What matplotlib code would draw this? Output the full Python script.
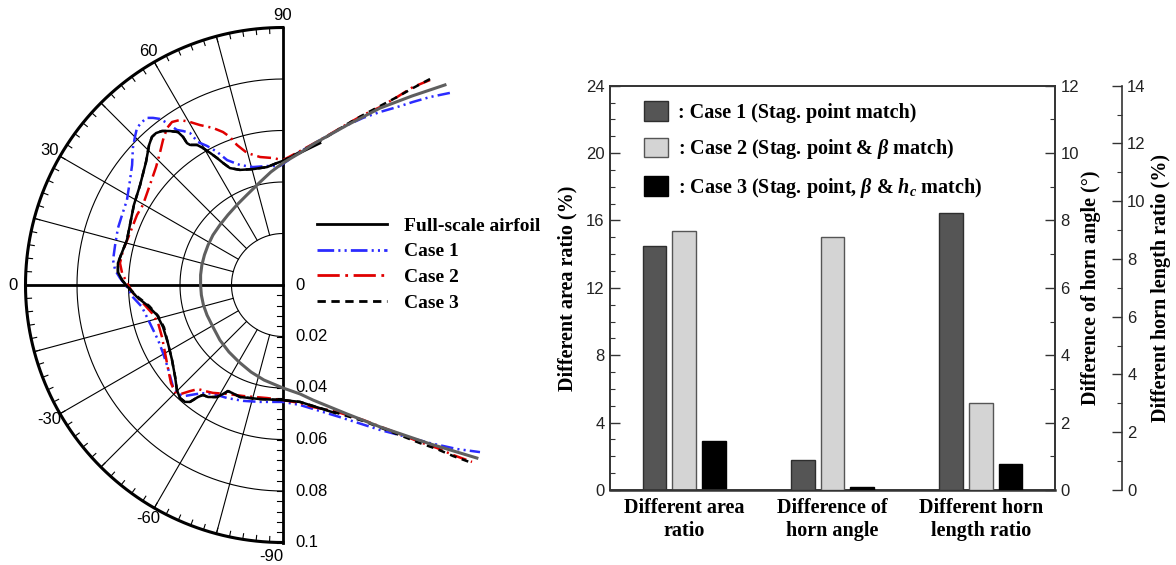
import numpy as np
import matplotlib
matplotlib.use('Agg')
import matplotlib.pyplot as plt
from matplotlib.lines import Line2D

plt.rcParams['font.family'] = 'Liberation Sans'
plt.rcParams['mathtext.fontset'] = 'custom'
plt.rcParams['mathtext.rm'] = 'Liberation Serif:bold'
plt.rcParams['mathtext.it'] = 'Liberation Serif:italic:bold'
plt.rcParams['mathtext.bf'] = 'Liberation Serif:bold'
plt.rcParams['mathtext.default'] = 'it'
plt.rcParams['lines.scale_dashes'] = False

SERIF = dict(family='Liberation Serif', weight='bold')

# ice shapes, x/y in the units of the polar grid (grid centre at 0, 0)
airfoil_x = [0.0629, 0.0501, 0.0377, 0.0249, 0.0124, 0.0066, 0.0, -0.0047, -0.0093, -0.0140,
             -0.0179, -0.0214, -0.0245, -0.0272, -0.0291, -0.0305, -0.0315, -0.0320, -0.0320, -0.0317,
             -0.0309, -0.0295, -0.0272, -0.0245, -0.0210, -0.0171, -0.0124, -0.0074, 0.0, 0.0066,
             0.0117, 0.0249, 0.0377, 0.0571, 0.0753]
airfoil_y = [0.0777, 0.0734, 0.0687, 0.0621, 0.0551, 0.0513, 0.0474, 0.0439, 0.0396, 0.0350,
             0.0311, 0.0272, 0.0233, 0.0194, 0.0155, 0.0117, 0.0078, 0.0039, 0.0, -0.0039,
             -0.0078, -0.0117, -0.0163, -0.0214, -0.0260, -0.0299, -0.0338, -0.0369, -0.0400, -0.0423,
             -0.0447, -0.0501, -0.0551, -0.0617, -0.0672]

full_x = [0.0144, 0.0066, 0.0, -0.0023, -0.0062, -0.0117, -0.0167, -0.0206, -0.0233,
          -0.0256, -0.0283, -0.0311, -0.0334, -0.0361, -0.0373, -0.0388, -0.0408, -0.0439, -0.0470,
          -0.0493, -0.0509, -0.0520, -0.0532, -0.0555, -0.0579, -0.0606, -0.0629, -0.0641, -0.0641,
          -0.0625, -0.0606, -0.0567, -0.0528, -0.0489, -0.0466, -0.0447, -0.0431, -0.0419, -0.0412,
          -0.0400, -0.0381, -0.0361, -0.0330, -0.0311, -0.0291, -0.0256, -0.0225, -0.0214, -0.0198,
          -0.0167, -0.0089, 0.0, 0.0066, 0.0117, 0.0202]
full_y = [0.0551, 0.0513, 0.0482, 0.0474, 0.0458, 0.0450, 0.0447, 0.0454, 0.0474,
          0.0493, 0.0513, 0.0532, 0.0544, 0.0544, 0.0551, 0.0575, 0.0594, 0.0598, 0.0598,
          0.0590, 0.0575, 0.0544, 0.0478, 0.0388, 0.0311, 0.0175, 0.0117, 0.0085, 0.0050,
          0.0019, -0.0004, -0.0047, -0.0078, -0.0117, -0.0163, -0.0225, -0.0291, -0.0357, -0.0408,
          -0.0439, -0.0454, -0.0454, -0.0435, -0.0427, -0.0435, -0.0435, -0.0419, -0.0412, -0.0419,
          -0.0435, -0.0443, -0.0447, -0.0454, -0.0470, -0.0497]

case1_x = [0.0648, 0.0571, 0.0505, 0.0443, 0.0377, 0.0311, 0.0249, 0.0144, 0.0066, -0.0012,
           -0.0062, -0.0117, -0.0167, -0.0217, -0.0256, -0.0295, -0.0330, -0.0361, -0.0388, -0.0412,
           -0.0450, -0.0478, -0.0505, -0.0528, -0.0548, -0.0567, -0.0575, -0.0583, -0.0586, -0.0594,
           -0.0606, -0.0625, -0.0641, -0.0652, -0.0660, -0.0652, -0.0633, -0.0606, -0.0583, -0.0548,
           -0.0517, -0.0485, -0.0466, -0.0447, -0.0427, -0.0408, -0.0381, -0.0334, -0.0295, -0.0256,
           -0.0217, -0.0155, -0.0089, 0.0, 0.0066, 0.0221, 0.0377, 0.0571, 0.0676, 0.0765]
case1_y = [0.0746, 0.0730, 0.0711, 0.0691, 0.0672, 0.0649, 0.0621, 0.0563, 0.0517, 0.0462,
           0.0462, 0.0458, 0.0466, 0.0485, 0.0517, 0.0540, 0.0555, 0.0590, 0.0598, 0.0602,
           0.0629, 0.0645, 0.0649, 0.0649, 0.0633, 0.0610, 0.0575, 0.0532, 0.0466, 0.0408,
           0.0330, 0.0272, 0.0221, 0.0155, 0.0097, 0.0058, 0.0027, -0.0008, -0.0047, -0.0085,
           -0.0148, -0.0214, -0.0264, -0.0322, -0.0396, -0.0423, -0.0431, -0.0423, -0.0419, -0.0427,
           -0.0439, -0.0450, -0.0454, -0.0454, -0.0466, -0.0513, -0.0563, -0.0614, -0.0637, -0.0649]

case2_x = [0.0571, 0.0505, 0.0443, 0.0377, 0.0311, 0.0249, 0.0144, 0.0066, 0.0, -0.0039,
           -0.0089, -0.0140, -0.0179, -0.0206, -0.0233, -0.0272, -0.0322, -0.0361, -0.0400, -0.0431,
           -0.0450, -0.0466, -0.0478, -0.0493, -0.0517, -0.0544, -0.0567, -0.0594, -0.0621, -0.0633,
           -0.0625, -0.0606, -0.0583, -0.0544, -0.0509, -0.0485, -0.0470, -0.0458, -0.0447, -0.0435,
           -0.0419, -0.0396, -0.0361, -0.0330, -0.0303, -0.0272, -0.0217, -0.0155, -0.0062, 0.0,
           0.0066, 0.0117, 0.0210, 0.0311, 0.0443, 0.0532, 0.0598, 0.0660, 0.0734]
case2_y = [0.0796, 0.0769, 0.0730, 0.0691, 0.0660, 0.0625, 0.0563, 0.0520, 0.0485, 0.0493,
           0.0497, 0.0513, 0.0544, 0.0575, 0.0594, 0.0610, 0.0621, 0.0633, 0.0641, 0.0633,
           0.0610, 0.0563, 0.0513, 0.0458, 0.0388, 0.0311, 0.0272, 0.0202, 0.0136, 0.0085,
           0.0047, 0.0008, -0.0031, -0.0070, -0.0109, -0.0148, -0.0202, -0.0264, -0.0322, -0.0381,
           -0.0416, -0.0423, -0.0412, -0.0404, -0.0412, -0.0419, -0.0423, -0.0431, -0.0439, -0.0447,
           -0.0458, -0.0474, -0.0493, -0.0524, -0.0575, -0.0610, -0.0633, -0.0660, -0.0687]

case3_x = [0.0571, 0.0505, 0.0443, 0.0377, 0.0311, 0.0249, 0.0144, 0.0066, 0.0, -0.0023,
           -0.0062, -0.0117, -0.0167, -0.0206, -0.0233, -0.0256, -0.0283, -0.0311, -0.0334, -0.0361,
           -0.0373, -0.0388, -0.0408, -0.0439, -0.0470, -0.0493, -0.0509, -0.0520, -0.0532, -0.0555,
           -0.0579, -0.0606, -0.0629, -0.0641, -0.0641, -0.0625, -0.0606, -0.0563, -0.0520, -0.0485,
           -0.0462, -0.0447, -0.0431, -0.0419, -0.0412, -0.0400, -0.0381, -0.0361, -0.0330, -0.0311,
           -0.0291, -0.0256, -0.0225, -0.0214, -0.0198, -0.0167, -0.0089, 0.0, 0.0066, 0.0117,
           0.0210, 0.0311, 0.0443, 0.0532, 0.0598, 0.0660, 0.0734]
case3_y = [0.0800, 0.0765, 0.0730, 0.0695, 0.0660, 0.0625, 0.0559, 0.0517, 0.0482, 0.0474,
           0.0458, 0.0450, 0.0447, 0.0454, 0.0474, 0.0493, 0.0513, 0.0532, 0.0544, 0.0544,
           0.0551, 0.0575, 0.0594, 0.0598, 0.0598, 0.0590, 0.0575, 0.0544, 0.0478, 0.0388,
           0.0311, 0.0175, 0.0117, 0.0085, 0.0050, 0.0019, -0.0004, -0.0047, -0.0081, -0.0120,
           -0.0165, -0.0225, -0.0291, -0.0357, -0.0408, -0.0439, -0.0454, -0.0454, -0.0435, -0.0427,
           -0.0435, -0.0435, -0.0419, -0.0412, -0.0419, -0.0435, -0.0443, -0.0447, -0.0454, -0.0470,
           -0.0497, -0.0528, -0.0579, -0.0614, -0.0637, -0.0664, -0.0691]

# polar grid
r_rings = [0.02, 0.04, 0.06, 0.08, 0.1]
r_labels = [0, 0.02, 0.04, 0.06, 0.08, 0.1]
theta_labels = [-90, -60, -30, 0, 30, 60, 90]

# bar chart
categories = ['Different area\nratio', 'Difference of\nhorn angle', 'Different horn\nlength ratio']
case_names = [': Case 1 (Stag. point match)',
              r': Case 2 (Stag. point & $\beta$ match)',
              r': Case 3 (Stag. point, $\beta$ & $h_c$ match)']
case1_vals = [14.5, 0.9, 9.6]
case2_vals = [15.4, 7.5, 3.0]
case3_vals = [2.9, 0.1, 0.9]

fig = plt.figure(figsize=(11.76, 5.65), dpi=100)

# ---------------- left: ice shapes on a polar grid ----------------
S, CX, CY = 2575.0, 283.0, 285.0
ax0 = fig.add_axes([0, 0, 560 / 1176, 1])
ax0.set_xlim(-CX / S, (560 - CX) / S)
ax0.set_ylim((CY - 565) / S, CY / S)
ax0.axis('off')

th = np.radians(np.linspace(-90, 90, 361))
for r in r_rings:
    ax0.plot(-r * np.cos(th), r * np.sin(th), color='k',
             lw=2.2 if r == 0.1 else 0.8, zorder=1)
for a in range(-75, 90, 15):
    if a == 0:
        continue
    t = np.radians(a)
    ax0.plot([-0.02 * np.cos(t), -0.1 * np.cos(t)], [0.02 * np.sin(t), 0.1 * np.sin(t)],
             color='k', lw=0.8, zorder=1)
for a in range(-90, 91, 3):
    t = np.radians(a)
    ax0.plot([-0.1 * np.cos(t), -0.0978 * np.cos(t)], [0.1 * np.sin(t), 0.0978 * np.sin(t)],
             color='k', lw=0.8, zorder=1)
ax0.plot([-0.1, 0], [0, 0], color='k', lw=2, zorder=1)
ax0.plot([0, 0], [-0.1, 0.1], color='k', lw=2, zorder=1)
for r in np.arange(0, 0.1001, 0.004):
    ax0.plot([-0.0022, 0], [-r, -r], color='k', lw=0.8, zorder=1)

for a in theta_labels:
    t = np.radians(a)
    rr = 0.1048
    if a == -90:
        ax0.text(0.0003, -rr - 0.0005, '-90', ha='right', va='center', fontsize=12)
    else:
        ax0.text(-rr * np.cos(t), rr * np.sin(t), str(a), ha='center', va='center', fontsize=12)
for r in r_labels:
    ax0.text(0.0047, -r, '%g' % r, ha='left', va='center', fontsize=12)

ax0.plot(case1_x, case1_y, color='#2b2bff', lw=1.8, dashes=(9, 3, 1.5, 3, 1.5, 3), zorder=3)
ax0.plot(case2_x, case2_y, color='#e00000', lw=1.8, dashes=(10, 3.5, 1.5, 3.5), zorder=3)
ax0.plot(full_x, full_y, color='k', lw=1.8, zorder=4)
ax0.plot(case3_x, case3_y, color='k', lw=1.8, dashes=(5, 4), zorder=4)
ax0.plot(airfoil_x, airfoil_y, color='#5f5f5f', lw=2.2, zorder=5)

leg_handles = [Line2D([], [], color='k', lw=2),
               Line2D([], [], color='#2b2bff', lw=2, dashes=(12, 3, 1.5, 3, 1.5, 3)),
               Line2D([], [], color='#e00000', lw=2, dashes=(16, 4, 2, 4)),
               Line2D([], [], color='k', lw=2, dashes=(6, 4))]
fig.legend(leg_handles, ['Full-scale airfoil', 'Case 1', 'Case 2', 'Case 3'],
           loc='upper left', bbox_to_anchor=(317 / 1176, 1 - 217 / 565),
           frameon=False, prop=dict(SERIF, size=14), handlelength=3.6,
           handletextpad=0.85, labelspacing=0.42, borderpad=0, borderaxespad=0)

# ---------------- right: bar chart with three y axes ----------------
ax = fig.add_axes([610 / 1176, 75 / 565, 445 / 1176, 404.3 / 565])
ax2 = ax.twinx()
ax3 = ax.twinx()
ax3.spines['right'].set_position(('outward', 48))
for s in ['top', 'left', 'bottom']:
    ax3.spines[s].set_visible(False)

axes = [ax, ax2, ax3]
limits = [(24, 4), (12, 2), (14, 2)]
for a, (top, step) in zip(axes, limits):
    a.set_ylim(0, top)
    a.set_yticks(np.arange(0, top + 0.1, step))
    a.set_yticks(np.arange(0, top + 0.1, 1), minor=True)
    a.tick_params(axis='y', which='major', direction='in', length=7, width=1,
                  labelsize=12, labelcolor='#222222', color='#333333', pad=4)
    a.tick_params(axis='y', which='minor', direction='in', length=3.5, width=0.8,
                  color='#333333')
    for sp in a.spines.values():
        sp.set_linewidth(1.2)
        sp.set_color('#333333')
ax.spines['bottom'].set_linewidth(1.8)

ax.set_xlim(-0.5, 2.5)
ax.set_xticks(range(3))
ax.set_xticklabels(categories, fontdict=dict(SERIF, size=14.5), linespacing=1.15)
ax.tick_params(axis='x', length=0, pad=6)

offsets = [-0.2, 0.0, 0.2]
colors = ['#555555', '#d4d4d4', '#000000']
edges = ['#2e2e2e', '#555555', '#000000']
handles = []
for i, vals in enumerate([case1_vals, case2_vals, case3_vals]):
    for j in range(3):
        b = axes[j].bar(j + offsets[i], vals[j], width=0.16, color=colors[i],
                        edgecolor=edges[i], linewidth=1, zorder=3)
        if j == 0:
            handles.append(b[0])

ax.set_ylabel('Different area ratio (%)', fontdict=dict(SERIF, size=14.5), labelpad=6)
ax2.set_ylabel('Difference of horn angle (°)', fontdict=dict(SERIF, size=14.5), labelpad=1)
ax3.set_ylabel('Different horn length ratio (%)', fontdict=dict(SERIF, size=14.5), labelpad=4)

fig.legend(handles, case_names, loc='upper left', bbox_to_anchor=(644 / 1176, 1 - 101 / 565),
           frameon=False, prop=dict(SERIF, size=14.5), handlelength=1.2, handleheight=1.15,
           handletextpad=0.5, labelspacing=0.72, borderpad=0, borderaxespad=0)

fig.savefig('out.png', dpi=100)
